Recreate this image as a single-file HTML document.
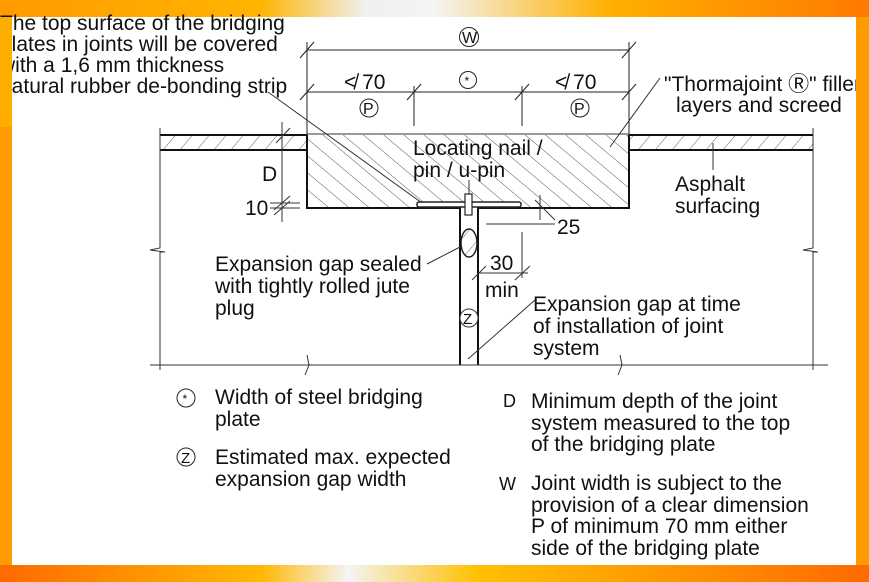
<!DOCTYPE html>
<html><head><meta charset="utf-8"><style>
html,body{margin:0;padding:0;width:869px;height:582px;overflow:hidden;background:#fff}
</style></head><body>
<svg width="869" height="582" viewBox="0 0 869 582" xmlns="http://www.w3.org/2000/svg" font-family="Liberation Sans, Arial, sans-serif">
<defs>
<linearGradient id="og" x1="0" y1="0" x2="1" y2="0">
<stop offset="0" stop-color="#ff9a00"/><stop offset="0.3" stop-color="#ffb400"/><stop offset="0.42" stop-color="#f0f0f0"/><stop offset="0.5" stop-color="#f4f4f4"/><stop offset="0.7" stop-color="#ffb000"/><stop offset="1" stop-color="#ff7a00"/>
</linearGradient>
<linearGradient id="og2" x1="0" y1="0" x2="1" y2="0">
<stop offset="0" stop-color="#ff6a00"/><stop offset="0.3" stop-color="#ffb800"/><stop offset="0.4" stop-color="#f4f4f4"/><stop offset="0.55" stop-color="#ffc000"/><stop offset="0.75" stop-color="#ff9a00"/><stop offset="1" stop-color="#ff6a00"/>
</linearGradient>
<pattern id="h1" width="13" height="13" patternUnits="userSpaceOnUse" patternTransform="rotate(-50)"><line x1="0" y1="0" x2="0" y2="13" stroke="#444" stroke-width="0.9"/></pattern>
<pattern id="h2" width="13" height="13" patternUnits="userSpaceOnUse" patternTransform="rotate(40)"><line x1="0" y1="0" x2="0" y2="13" stroke="#555" stroke-width="0.9"/></pattern>
</defs>
<rect x="0" y="0" width="869" height="582" fill="url(#og)"/>
<rect x="0" y="565" width="869" height="17" fill="url(#og2)"/>
<rect x="12" y="17" width="844" height="548" fill="#fff"/>
<g fill="#111" font-size="21">
<text x="0" y="30">The top surface of the bridging</text>
<text x="0" y="51">plates in joints will be covered</text>
<text x="0" y="72">with a 1,6 mm thickness</text>
<text x="0" y="93">natural rubber de-bonding strip</text>
</g>
<rect x="0" y="17" width="12" height="110" fill="#ffae00"/>
<g stroke="#222" fill="none" stroke-width="1">
<line x1="307" y1="50" x2="629" y2="50"/>
<line x1="307" y1="42" x2="307" y2="135"/><line x1="629" y1="42" x2="629" y2="135"/>
<line x1="300" y1="58" x2="314" y2="42"/><line x1="622" y1="58" x2="636" y2="42"/>
<line x1="307" y1="92" x2="629" y2="92"/>
<line x1="300" y1="100" x2="314" y2="84"/><line x1="622" y1="100" x2="636" y2="84"/>
<line x1="414" y1="86" x2="414" y2="126"/><line x1="407" y1="100" x2="421" y2="84"/>
<line x1="522" y1="86" x2="522" y2="126"/><line x1="515" y1="100" x2="529" y2="84"/>
<circle cx="469" cy="37" r="9.5"/><circle cx="468" cy="80" r="8.5"/>
<circle cx="369" cy="108" r="9"/><circle cx="580" cy="108" r="9"/>
</g>
<g fill="#111" font-size="21">
<text x="462" y="43" font-size="16">W</text>
<text x="464.5" y="85" font-size="12">*</text>
<text x="363" y="114" font-size="16">P</text><text x="574" y="114" font-size="16">P</text>
<text x="344" y="89">≮ 70</text><text x="555" y="89">≮ 70</text>
</g>
<rect x="160" y="135" width="147" height="15" fill="url(#h2)"/>
<rect x="629" y="135" width="184" height="15" fill="url(#h2)"/>
<rect x="307" y="135" width="322" height="73" fill="url(#h1)"/>
<g stroke="#111" fill="none" stroke-width="2">
<line x1="160" y1="135" x2="307" y2="135"/><line x1="160" y1="150" x2="307" y2="150"/>
<line x1="629" y1="135" x2="813" y2="135"/><line x1="629" y1="150" x2="813" y2="150"/>
<polyline points="307,135 307,208 460,208 460,365"/>
<polyline points="629,135 629,208 478,208 478,365"/>
</g>
<g stroke="#333" fill="none" stroke-width="1">
<line x1="307" y1="134" x2="629" y2="134"/>
<polyline points="160,128 160,248 150,250 165,252 160,252 160,370"/>
<polyline points="813,128 813,248 803,250 818,252 813,252 813,370"/>
<line x1="150" y1="365" x2="828" y2="365"/>
<polyline points="307,355 309,365 305,375"/><polyline points="620,355 622,365 618,375"/>
<line x1="282" y1="122" x2="282" y2="222"/>
<line x1="276" y1="143" x2="290" y2="128"/>
<line x1="270" y1="203" x2="300" y2="203"/><line x1="270" y1="208" x2="300" y2="208"/>
<line x1="274" y1="210" x2="290" y2="196"/><line x1="274" y1="215" x2="290" y2="201"/>
<line x1="268" y1="92" x2="422" y2="203"/>
<line x1="469" y1="180" x2="469" y2="194"/>
<line x1="660" y1="78" x2="610" y2="147"/>
<line x1="713" y1="143" x2="713" y2="170"/>
<line x1="540" y1="195" x2="540" y2="220"/><line x1="535" y1="200" x2="555" y2="220"/>
<line x1="486" y1="224" x2="555" y2="224"/>
<line x1="522" y1="232" x2="522" y2="278"/><line x1="478" y1="273" x2="528" y2="273"/>
<line x1="515" y1="280" x2="530" y2="266"/><line x1="472" y1="280" x2="486" y2="266"/>
<line x1="427" y1="264" x2="460" y2="247"/>
<line x1="468" y1="359" x2="535" y2="300"/>
<circle cx="469" cy="318" r="9" fill="#fff"/>
</g>
<rect x="417" y="202" width="104" height="5" fill="#fff" stroke="#222" stroke-width="1.5" rx="2"/>
<rect x="465" y="194" width="7" height="21" fill="#fff" stroke="#222" stroke-width="1.2"/>
<ellipse cx="469" cy="243" rx="8" ry="14" fill="url(#h2)" stroke="#222" stroke-width="1.5"/>
<g fill="#111" font-size="21">
<text x="463" y="324" font-size="15">Z</text>
<text x="413" y="155">Locating nail /</text>
<text x="413" y="177">pin / u-pin</text>
<text x="262" y="181">D</text>
<text x="245" y="215">10</text>
<text x="557" y="234">25</text>
<text x="490" y="270">30</text>
<text x="485" y="297">min</text>
<text x="215" y="271">Expansion gap sealed</text>
<text x="215" y="293">with tightly rolled jute</text>
<text x="215" y="315">plug</text>
<text x="533" y="311">Expansion gap at time</text>
<text x="533" y="333">of installation of joint</text>
<text x="533" y="355">system</text>
<text x="664" y="91">"Thormajoint <tspan>Ⓡ</tspan>" filler</text>
<text x="676" y="112">layers and screed</text>
<text x="675" y="191">Asphalt</text>
<text x="675" y="213">surfacing</text>
</g>
<rect x="856" y="17" width="13" height="548" fill="#ff9a00"/>
<g stroke="#222" fill="none" stroke-width="1"><circle cx="186" cy="398" r="9"/><circle cx="186" cy="457" r="9"/></g>
<g fill="#111" font-size="21">
<text x="182.5" y="403" font-size="12">*</text>
<text x="181" y="463" font-size="15">Z</text>
<text x="215" y="404">Width of steel bridging</text>
<text x="215" y="426">plate</text>
<text x="215" y="464">Estimated max. expected</text>
<text x="215" y="486">expansion gap width</text>
<text x="503" y="407" font-size="18">D</text>
<text x="531" y="408">Minimum depth of the joint</text>
<text x="531" y="430">system measured to the top</text>
<text x="531" y="451">of the bridging plate</text>
<text x="499" y="490" font-size="18">W</text>
<text x="531" y="490">Joint width is subject to the</text>
<text x="531" y="512">provision of a clear dimension</text>
<text x="531" y="533">P of minimum 70 mm either</text>
<text x="531" y="555">side of the bridging plate</text>
</g>
</svg>
</body></html>
